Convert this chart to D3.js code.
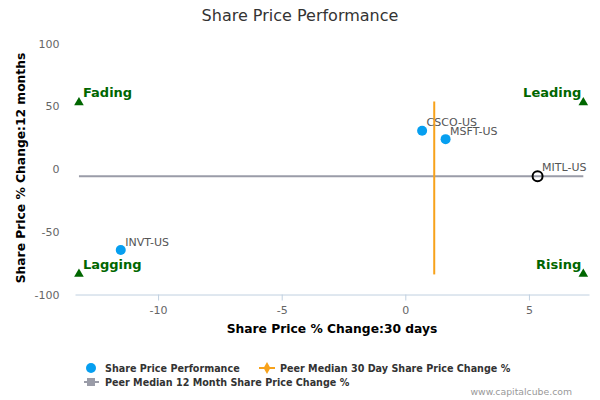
<!DOCTYPE html>
<html><head><meta charset="utf-8">
<script src="https://cdn.jsdelivr.net/npm/d3@7"></script>
<style>body{margin:0;background:#fff}svg{display:block;font-family:"DejaVu Sans",sans-serif}</style>
</head><body>
<svg id="c" width="600" height="400"></svg>
<script>
const tickers = ["CSCO-US","MSFT-US","INVT-US"];
const change30d = [0.68, 1.63, -11.51];
const change12m = [30.5, 23.8, -64.6];
const focusTicker = "MITL-US";
const focus30d = 5.35;
const focus12m = -5.8;
const peerMedian30d = 1.17;
const peerMedian12m = -5.8;
const quadrants = ["Fading","Leading","Lagging","Rising"];
const quadX = [-13.2, 7.2, -13.2, 7.2];
const quadY = [53, 53, -83.7, -83.7];
const xTicks = [-10,-5,0,5];
const yTicks = [100,50,0,-50,-100];

const svg = d3.select("#c");
const x = d3.scaleLinear().domain([-13.36, 7.43]).range([75, 589]);
const y = d3.scaleLinear().domain([-100, 100]).range([294.5, 43.5]);
const fmt = d => String(d);

svg.append("text").attr("x",300).attr("y",21).attr("text-anchor","middle")
  .attr("font-size",16).attr("fill","#333").text("Share Price Performance");

// x axis
const xa = svg.append("g").attr("transform","translate(0,294.5)")
  .call(d3.axisBottom(x).tickValues(xTicks).tickFormat(fmt).tickSize(6).tickSizeOuter(0).tickPadding(6));
xa.select(".domain").attr("stroke","#c0d0e0");
xa.selectAll(".tick line").attr("stroke","#c0d0e0");
xa.selectAll("text").attr("fill","#666").attr("font-size",11).attr("font-family","DejaVu Sans");

// y axis (labels only)
const ya = svg.append("g").attr("transform","translate(59.5,0)")
  .call(d3.axisLeft(y).tickValues(yTicks).tickFormat(fmt).tickSize(0).tickPadding(0));
ya.select(".domain").remove();
ya.selectAll("text").attr("fill","#666").attr("font-size",11).attr("font-family","DejaVu Sans").attr("dy","0.32em");

svg.append("text").attr("x",332).attr("y",333).attr("text-anchor","middle")
  .attr("font-size",12.3).attr("font-weight","bold").attr("fill","#000").text("Share Price % Change:30 days");
svg.append("text").attr("transform","translate(25,168) rotate(-90)").attr("text-anchor","middle")
  .attr("font-size",12.3).attr("font-weight","bold").attr("fill","#000").text("Share Price % Change:12 months");

// peer median lines
svg.append("line").attr("x1",x(quadX[0])).attr("x2",x(quadX[1])).attr("y1",y(peerMedian12m)).attr("y2",y(peerMedian12m))
  .attr("stroke","#9a9ca8").attr("stroke-width",2);
svg.append("line").attr("x1",x(peerMedian30d)).attr("x2",x(peerMedian30d)).attr("y1",y(53.8)).attr("y2",y(-84))
  .attr("stroke","#f7a21b").attr("stroke-width",2);

// quadrant markers
const tri = d3.symbol().type(d3.symbolTriangle).size(40);
quadrants.forEach((q,i)=>{
  svg.append("path").attr("d",tri).attr("transform",`translate(${x(quadX[i])},${y(quadY[i])})`).attr("fill","#006600");
  const left = i%2===0;
  svg.append("text").attr("x", left ? x(quadX[i])+4 : x(quadX[i])-2).attr("y", y(quadY[i])-5)
    .attr("text-anchor", left?"start":"end").attr("font-size",13).attr("font-weight","bold")
    .attr("fill","#006600").text(q);
});

// peer points
tickers.forEach((t,i)=>{
  svg.append("circle").attr("cx",x(change30d[i])).attr("cy",y(change12m[i])).attr("r",5).attr("fill","#069ff0");
  svg.append("text").attr("x",x(change30d[i])+4.5).attr("y",y(change12m[i])-4.5).attr("font-size",11).attr("fill","#555").text(t);
});
svg.append("circle").attr("cx",x(focus30d)).attr("cy",y(focus12m)).attr("r",5).attr("fill","none").attr("stroke","#000").attr("stroke-width",2);
svg.append("text").attr("x",x(focus30d)+4.5).attr("y",y(focus12m)-5.5).attr("font-size",11).attr("fill","#555").text(focusTicker);

// legend
const lg = svg.append("g").attr("font-size",9.6).attr("font-weight","bold").attr("fill","#333");
lg.append("circle").attr("cx",91).attr("cy",368).attr("r",5).attr("fill","#069ff0");
lg.append("text").attr("x",105).attr("y",372).text("Share Price Performance");
lg.append("line").attr("x1",259).attr("x2",275).attr("y1",368).attr("y2",368).attr("stroke","#f7a21b").attr("stroke-width",2);
lg.append("path").attr("d",d3.symbol().type(d3.symbolDiamond).size(40)).attr("transform","translate(267,368)").attr("fill","#f7a21b");
lg.append("text").attr("x",280).attr("y",372).text("Peer Median 30 Day Share Price Change %");
lg.append("line").attr("x1",84).attr("x2",99).attr("y1",382).attr("y2",382).attr("stroke","#9a9ca8").attr("stroke-width",2);
lg.append("rect").attr("x",87).attr("y",378).attr("width",8).attr("height",8).attr("fill","#9a9ca8");
lg.append("text").attr("x",105).attr("y",386).text("Peer Median 12 Month Share Price Change %");

svg.append("text").attr("x",572).attr("y",395).attr("text-anchor","end").attr("font-size",9.3).attr("fill","#999").text("www.capitalcube.com");
</script>
</body></html>
